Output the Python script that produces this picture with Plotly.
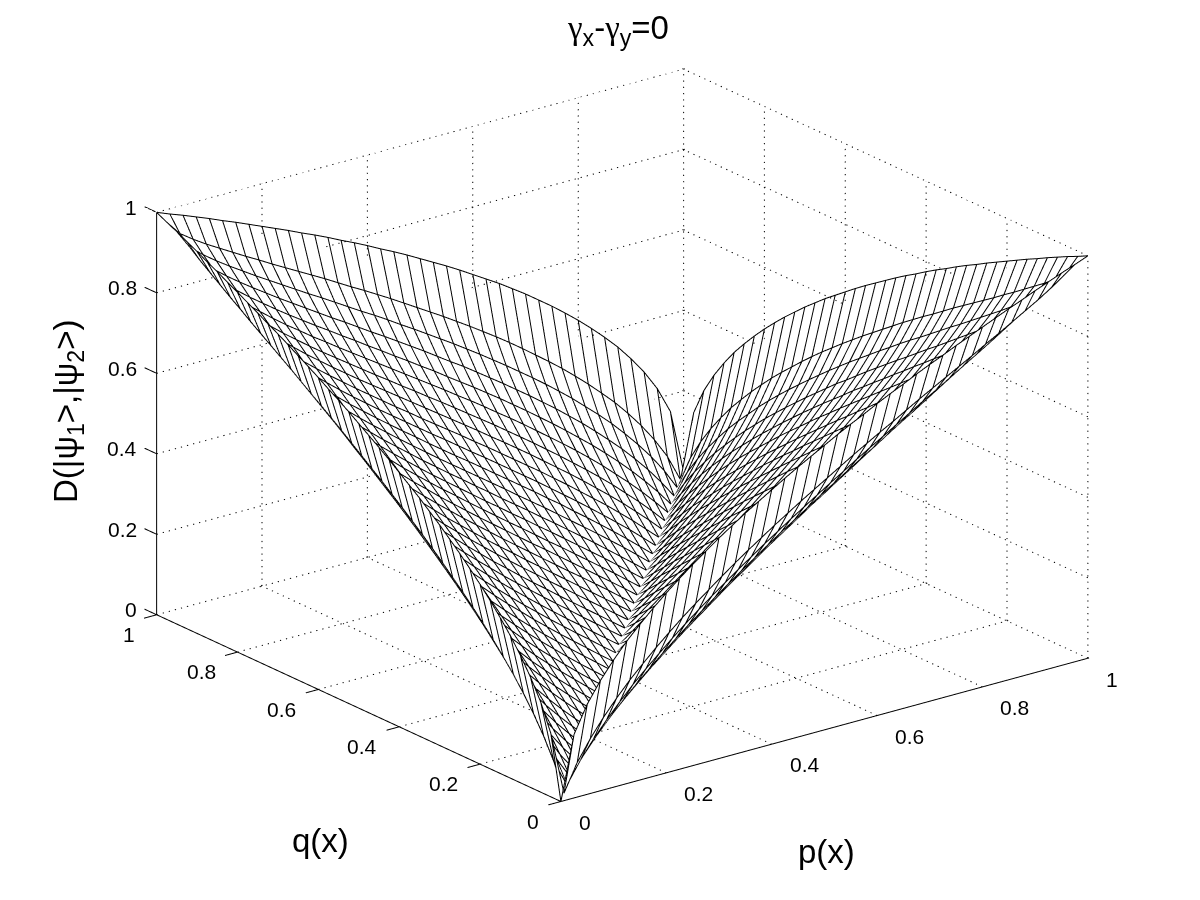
import numpy as np
import plotly.graph_objects as go

p_vals = [0, .025, .05, .075, .1, .125, .15, .175, .2, .225, .25, .275, .3, .325, .35, .375, .4, .425, .45, .475, .5,
          .525, .55, .575, .6, .625, .65, .675, .7, .725, .75, .775, .8, .825, .85, .875, .9, .925, .95, .975, 1]
q_vals = [0, .025, .05, .075, .1, .125, .15, .175, .2, .225, .25, .275, .3, .325, .35, .375, .4, .425, .45, .475, .5,
          .525, .55, .575, .6, .625, .65, .675, .7, .725, .75, .775, .8, .825, .85, .875, .9, .925, .95, .975, 1]
tick_vals = [0, 0.2, 0.4, 0.6, 0.8, 1]
tick_text = ['0', '0.2', '0.4', '0.6', '0.8', '1']

# heights above the diagonal, one row per q, starting just right of p = q.
# Not measured cell by cell: the edge curves in the picture were fitted with a
# sine-of-angle-difference shape by hand and the rest of the table follows that shape.
z_upper = [
    [.158, .224, .274, .316, .354, .387, .418, .447, .474, .5, .524, .548, .57, .592, .612, .632, .652, .671, .689, .707, .725, .742, .758, .775, .791, .806, .822, .837, .851, .866, .88, .894, .908, .922, .935, .949, .962, .975, .987, 1],
    [.067, .118, .162, .201, .237, .269, .3, .329, .357, .383, .408, .433, .457, .48, .502, .524, .545, .566, .586, .606, .626, .646, .665, .684, .702, .721, .74, .758, .776, .794, .812, .831, .849, .868, .887, .906, .927, .95, .987],
    [.052, .096, .135, .171, .205, .236, .265, .294, .321, .347, .372, .396, .42, .443, .466, .488, .51, .531, .552, .573, .593, .614, .634, .653, .673, .693, .713, .732, .752, .772, .792, .812, .833, .854, .876, .9, .927, .975],
    [.044, .084, .12, .154, .185, .215, .244, .271, .298, .323, .348, .372, .396, .419, .442, .465, .486, .508, .53, .551, .572, .593, .613, .634, .655, .675, .696, .717, .738, .759, .781, .803, .826, .85, .876, .906, .962],
    [.04, .076, .11, .142, .172, .201, .228, .255, .281, .306, .331, .355, .379, .402, .425, .447, .469, .492, .513, .535, .556, .578, .599, .621, .642, .664, .685, .707, .729, .752, .776, .8, .826, .854, .887, .949],
    [.036, .07, .102, .132, .162, .19, .217, .243, .268, .293, .318, .342, .365, .389, .412, .434, .457, .479, .501, .523, .545, .567, .589, .611, .633, .656, .678, .702, .725, .75, .776, .803, .833, .868, .935],
    [.034, .066, .096, .126, .154, .181, .207, .233, .258, .283, .307, .331, .355, .378, .401, .424, .447, .469, .492, .514, .537, .559, .582, .605, .628, .651, .675, .7, .725, .752, .781, .812, .849, .922],
    [.032, .062, .092, .12, .147, .174, .2, .225, .25, .275, .299, .323, .346, .37, .393, .416, .439, .462, .485, .508, .531, .554, .577, .601, .625, .65, .675, .702, .729, .759, .792, .831, .908],
    [.03, .06, .088, .116, .142, .168, .194, .219, .244, .268, .292, .316, .34, .363, .387, .41, .433, .456, .48, .503, .527, .551, .575, .6, .625, .651, .678, .707, .738, .772, .812, .894],
    [.029, .058, .085, .112, .138, .164, .189, .214, .239, .263, .287, .311, .335, .358, .382, .406, .429, .453, .477, .501, .525, .55, .575, .601, .628, .656, .685, .717, .752, .794, .88],
    [.028, .056, .083, .109, .135, .16, .186, .21, .235, .259, .283, .307, .331, .355, .378, .402, .426, .451, .475, .5, .525, .551, .577, .605, .633, .664, .696, .732, .776, .866],
    [.028, .055, .081, .107, .132, .157, .182, .207, .231, .255, .28, .304, .328, .352, .376, .4, .425, .45, .475, .501, .527, .554, .582, .611, .642, .675, .713, .758, .851],
    [.027, .053, .079, .105, .13, .155, .18, .204, .229, .253, .277, .302, .326, .351, .375, .4, .425, .451, .477, .503, .531, .559, .589, .621, .655, .693, .74, .837],
    [.026, .052, .078, .103, .128, .153, .178, .202, .227, .251, .276, .3, .325, .35, .375, .4, .426, .453, .48, .508, .537, .567, .599, .634, .673, .721, .822],
    [.026, .052, .077, .102, .127, .152, .176, .201, .226, .25, .275, .3, .325, .351, .376, .402, .429, .456, .485, .514, .545, .578, .613, .653, .702, .806],
    [.026, .051, .076, .101, .126, .151, .176, .2, .225, .25, .275, .3, .326, .352, .378, .406, .433, .462, .492, .523, .556, .593, .634, .684, .791],
    [.025, .051, .076, .101, .125, .15, .175, .2, .225, .25, .276, .302, .328, .355, .382, .41, .439, .469, .501, .535, .572, .614, .665, .775],
    [.025, .05, .075, .1, .125, .15, .175, .2, .226, .251, .277, .304, .331, .358, .387, .416, .447, .479, .513, .551, .593, .646, .758],
    [.025, .05, .075, .1, .125, .15, .176, .201, .227, .253, .28, .307, .335, .363, .393, .424, .457, .492, .53, .573, .626, .742],
    [.025, .05, .075, .1, .125, .151, .176, .202, .229, .255, .283, .311, .34, .37, .401, .434, .469, .508, .552, .606, .725],
    [.025, .05, .075, .101, .126, .152, .178, .204, .231, .259, .287, .316, .346, .378, .412, .447, .486, .531, .586, .707],
    [.025, .05, .076, .101, .127, .153, .18, .207, .235, .263, .292, .323, .355, .389, .425, .465, .51, .566, .689],
    [.025, .051, .076, .102, .128, .155, .182, .21, .239, .268, .299, .331, .365, .402, .442, .488, .545, .671],
    [.025, .051, .077, .103, .13, .157, .186, .214, .244, .275, .307, .342, .379, .419, .466, .524, .652],
    [.026, .052, .078, .105, .132, .16, .189, .219, .25, .283, .318, .355, .396, .443, .502, .632],
    [.026, .052, .079, .107, .135, .164, .194, .225, .258, .293, .331, .372, .42, .48, .612],
    [.026, .053, .081, .109, .138, .168, .2, .233, .268, .306, .348, .396, .457, .592],
    [.027, .055, .083, .112, .142, .174, .207, .243, .281, .323, .372, .433, .57],
    [.028, .056, .085, .116, .147, .181, .217, .255, .298, .347, .408, .548],
    [.028, .058, .088, .12, .154, .19, .228, .271, .321, .383, .524],
    [.029, .06, .092, .126, .162, .201, .244, .294, .357, .5],
    [.03, .062, .096, .132, .172, .215, .265, .329, .474],
    [.032, .066, .102, .142, .185, .236, .3, .447],
    [.034, .07, .11, .154, .205, .269, .418],
    [.036, .076, .12, .171, .237, .387],
    [.04, .084, .135, .201, .354],
    [.044, .096, .162, .316],
    [.052, .118, .274],
    [.067, .224],
    [.158],
]

TICK_P = 0.024
TICK_Q = 0.03
P_EXTRA = 0.01
ZOOM = 1.532

# the surface is mirror symmetric about p = q, so the lower half copies the upper
z_vals = [[0] * len(p_vals) for _ in q_vals]
for i, row in enumerate(z_upper):
    for k, v in enumerate(row):
        z_vals[i][i + 1 + k] = v
        z_vals[i + 1 + k][i] = v


def dotted(a, b, n, xs, ys, zs):
    # a real dash style comes out far too long in 3d, so each dot is a tiny segment
    a, b = np.array(a, float), np.array(b, float)
    for s in np.linspace(0, 1, n):
        c = a + (b - a) * s
        d = c + (b - a) * (0.2 / n)
        xs += [c[0], d[0], None]
        ys += [c[1], d[1], None]
        zs += [c[2], d[2], None]


fig = go.Figure()

# white sheet pushed a little away from the viewer, it only hides what lies behind the mesh.
# Mesh3d and not Surface: Surface smooths each cell and bridges the valley
n_p, n_q = len(p_vals), len(q_vals)
sheet_x, sheet_y = np.meshgrid(np.array(p_vals) + 0.005, np.array(q_vals) + 0.0065)
sheet_z = np.maximum(np.array(z_vals) - 0.0048, 0)
tri_i, tri_j, tri_k = [], [], []
for a in range(n_q - 1):
    for b in range(n_p - 1):
        v = a * n_p + b
        # cell diagonal along the valley direction
        tri_i += [v, v]
        tri_j += [v + 1, v + n_p]
        tri_k += [v + n_p + 1, v + n_p + 1]
fig.add_trace(go.Mesh3d(
    x=sheet_x.ravel(), y=sheet_y.ravel(), z=sheet_z.ravel(),
    i=tri_i, j=tri_j, k=tri_k, color='white', flatshading=True,
    lighting=dict(ambient=1, diffuse=0, specular=0, fresnel=0),
    hoverinfo='skip', showscale=False,
))

mx, my, mz = [], [], []
for i, q in enumerate(q_vals):
    mx += p_vals + [None]
    my += [q] * len(p_vals) + [None]
    mz += z_vals[i] + [None]
for j, p in enumerate(p_vals):
    mx += [p] * len(q_vals) + [None]
    my += q_vals + [None]
    mz += [row[j] for row in z_vals] + [None]
fig.add_trace(go.Scatter3d(x=mx, y=my, z=mz, mode='lines',
                           line=dict(color='black', width=2),
                           hoverinfo='skip', showlegend=False))

# dotted grid on the floor and the two back walls
gx, gy, gz = [], [], []
for t in tick_vals:
    dotted((t, 0, 0), (t, 1, 0), 75, gx, gy, gz)
    dotted((0, t, 0), (1, t, 0), 88, gx, gy, gz)
    dotted((t, 1, 0), (t, 1, 1), 65, gx, gy, gz)
    dotted((1, t, 0), (1, t, 1), 65, gx, gy, gz)
    dotted((0, 1, t), (1, 1, t), 88, gx, gy, gz)
    dotted((1, 0, t), (1, 1, t), 75, gx, gy, gz)
fig.add_trace(go.Scatter3d(x=gx, y=gy, z=gz, mode='lines',
                           line=dict(color='black', width=2),
                           hoverinfo='skip', showlegend=False))

# solid axis lines and tick marks
ax, ay, az = [0, 1, None, 0, 0, None, 0, 0, None], [0, 0, None, 0, 1, None, 1, 1, None], [0, 0, None, 0, 0, None, 0, 1, None]
for t in tick_vals:
    ax += [t, t, None, 0, -TICK_P, None, 0, 0, None]
    ay += [0, -TICK_Q, None, t, t, None, 1, 1 + TICK_Q, None]
    az += [0, 0, None, 0, 0, None, t, t, None]
fig.add_trace(go.Scatter3d(x=ax, y=ay, z=az, mode='lines',
                           line=dict(color='black', width=2),
                           hoverinfo='skip', showlegend=False))

tick_font = dict(family='Liberation Sans', size=21, color='black')
labels = []
for t, s in zip(tick_vals, tick_text):
    labels.append(dict(x=t, y=0, z=0, text=s, showarrow=False, font=tick_font,
                       xanchor='left', yanchor='middle', xshift=16, yshift=-21))
    labels.append(dict(x=0, y=t, z=0, text=s, showarrow=False, font=tick_font,
                       xanchor='right', yanchor='middle', xshift=-20, yshift=-20))
    labels.append(dict(x=0, y=1, z=t, text=s, showarrow=False, font=tick_font,
                       xanchor='right', yanchor='middle', xshift=-18, yshift=5))

axis = dict(title='', showgrid=False, zeroline=False, showbackground=False,
            showline=False, ticks='', showticklabels=False, showspikes=False)

title_font = dict(family='Liberation Sans', size=33, color='black')


def paper_text(text, px, py, angle=0):
    return dict(text=text, x=px / 1200, y=1 - py / 900, xref='paper', yref='paper',
                xanchor='center', yanchor='middle', showarrow=False,
                textangle=angle, font=title_font)


fig.update_layout(
    width=1200, height=900,
    margin=dict(l=0, r=0, t=0, b=0),
    paper_bgcolor='white',
    scene=dict(
        domain=dict(x=[0.0284, 0.9924], y=[0.037, 1]),
        xaxis=dict(axis, range=[-TICK_P, 1 + P_EXTRA]),
        yaxis=dict(axis, range=[0, 1 + TICK_Q]),
        zaxis=dict(axis, range=[0, 1]),
        aspectmode='manual',
        aspectratio=dict(x=(1 + TICK_P + P_EXTRA) * ZOOM, y=(1 + TICK_Q) * ZOOM, z=0.648 * ZOOM),
        camera=dict(eye=dict(x=-1.028, y=-1.34, z=0.64),
                    up=dict(x=0, y=0, z=1),
                    center=dict(x=0, y=0, z=0),
                    projection=dict(type='orthographic')),
        annotations=labels,
    ),
    annotations=[
        paper_text('<span style="font-family:Liberation Serif">γ</span><sub>x</sub>-'
                   '<span style="font-family:Liberation Serif">γ</span><sub>y</sub>=0', 618, 30),
        paper_text('q(x)', 320, 840),
        paper_text('p(x)', 826, 851),
        paper_text('D(|ψ<sub>1</sub>>,|ψ<sub>2</sub>>)', 68, 412, angle=-90),
    ],
)

fig.write_html("out.html", post_script="document.body.style.margin='0';",
               config={'displayModeBar': False})
